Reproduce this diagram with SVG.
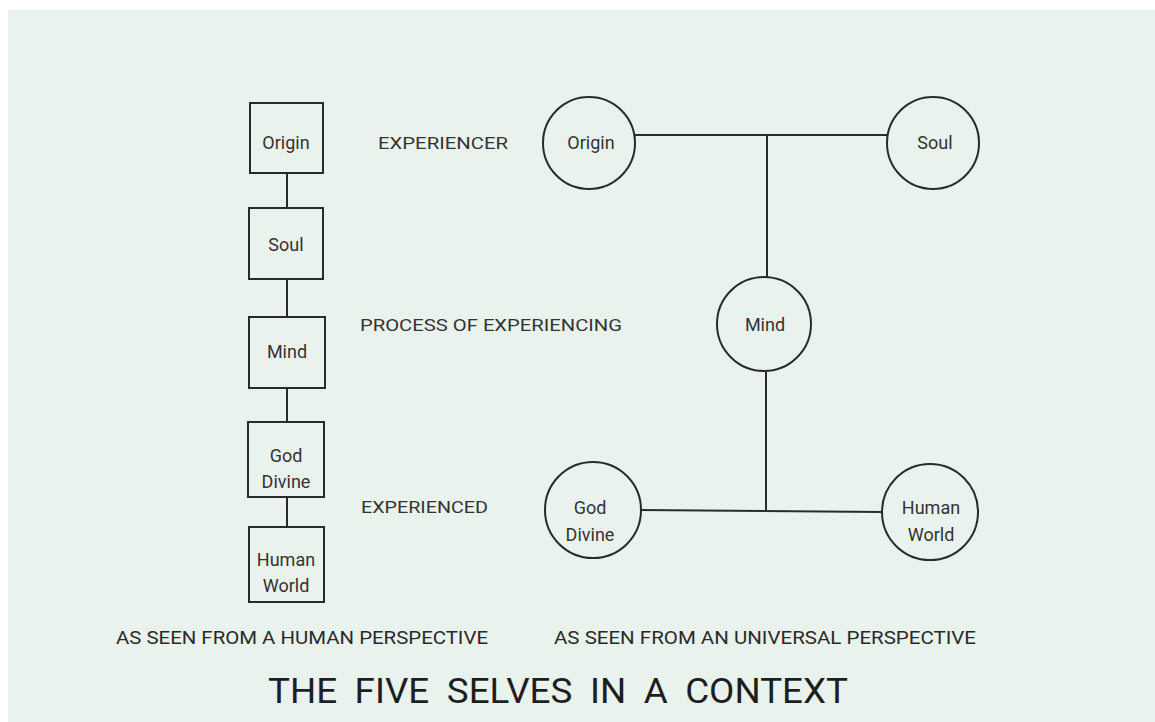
<svg xmlns="http://www.w3.org/2000/svg" width="1155" height="722" viewBox="0 0 1155 722">
<style>
.bg{fill:#e9f2ec}
.box{fill:none;stroke:#2a2a2a;stroke-width:2}
.circ{fill:none;stroke:#2a2a2a;stroke-width:2}
.ln{stroke:#2a2a2a;stroke-width:2;fill:none}
.t{font-family:Roboto,"Liberation Sans",sans-serif;font-size:18px;fill:#333;text-anchor:middle;dominant-baseline:central}
.lab{font-family:Roboto,"Liberation Sans",sans-serif;font-size:17px;fill:#333}
.cap{font-family:Roboto,"Liberation Sans",sans-serif;font-size:19px;fill:#2a2a2a}
.title{font-family:Roboto,"Liberation Sans",sans-serif;font-size:35px;fill:#1e1e1e}
</style>
<rect width="1155" height="722" fill="#ffffff"/>
<rect class="bg" x="8" y="10" width="1147" height="712"/>
<g id="connectors">
<line class="ln" x1="287" y1="173" x2="287" y2="208"/>
<line class="ln" x1="287" y1="279" x2="287" y2="317"/>
<line class="ln" x1="287" y1="388" x2="287" y2="422"/>
<line class="ln" x1="287" y1="497" x2="287" y2="527"/>
<line class="ln" x1="635" y1="135" x2="888" y2="135"/>
<line class="ln" x1="767" y1="135" x2="767" y2="278"/>
<line class="ln" x1="766" y1="372" x2="766" y2="511"/>
<line class="ln" x1="640" y1="510" x2="882" y2="512"/>
</g>
<g id="box-origin"><rect class="box" x="250" y="103" width="73" height="70"/><text class="t" x="286" y="142">Origin</text></g>
<g id="box-soul"><rect class="box" x="249" y="208" width="74" height="71"/><text class="t" x="286" y="244">Soul</text></g>
<g id="box-mind"><rect class="box" x="249" y="317" width="76" height="71"/><text class="t" x="287" y="351">Mind</text></g>
<g id="box-god"><rect class="box" x="248" y="422" width="76" height="75"/><text class="t" x="286" y="455">God</text><text class="t" x="286" y="481">Divine</text></g>
<g id="box-human"><rect class="box" x="249" y="527" width="75" height="75"/><text class="t" x="286" y="559">Human</text><text class="t" x="286" y="585">World</text></g>
<g id="label-experiencer"><text class="lab" x="378" y="149" textLength="130" lengthAdjust="spacingAndGlyphs">EXPERIENCER</text></g>
<g id="label-process"><text class="lab" x="360" y="331" textLength="262" lengthAdjust="spacingAndGlyphs">PROCESS OF EXPERIENCING</text></g>
<g id="label-experienced"><text class="lab" x="361" y="513" textLength="127" lengthAdjust="spacingAndGlyphs">EXPERIENCED</text></g>
<g id="circle-origin"><circle class="circ" cx="589" cy="143" r="46"/><text class="t" x="591" y="142">Origin</text></g>
<g id="circle-soul"><circle class="circ" cx="933" cy="143" r="46"/><text class="t" x="935" y="142">Soul</text></g>
<g id="circle-mind"><circle class="circ" cx="764" cy="324" r="47"/><text class="t" x="765" y="324">Mind</text></g>
<g id="circle-god"><circle class="circ" cx="593" cy="510" r="48"/><text class="t" x="590" y="507">God</text><text class="t" x="590" y="534">Divine</text></g>
<g id="circle-human"><circle class="circ" cx="930" cy="512" r="48"/><text class="t" x="931" y="507">Human</text><text class="t" x="931" y="534">World</text></g>
<g id="captions">
<text class="cap" x="116" y="644" textLength="372" lengthAdjust="spacingAndGlyphs">AS SEEN FROM A HUMAN PERSPECTIVE</text>
<text class="cap" x="554" y="644" textLength="422" lengthAdjust="spacingAndGlyphs">AS SEEN FROM AN UNIVERSAL PERSPECTIVE</text>
<text class="title" x="268" y="703" textLength="580" lengthAdjust="spacingAndGlyphs" word-spacing="8">THE FIVE SELVES IN A CONTEXT</text>
</g>
</svg>
